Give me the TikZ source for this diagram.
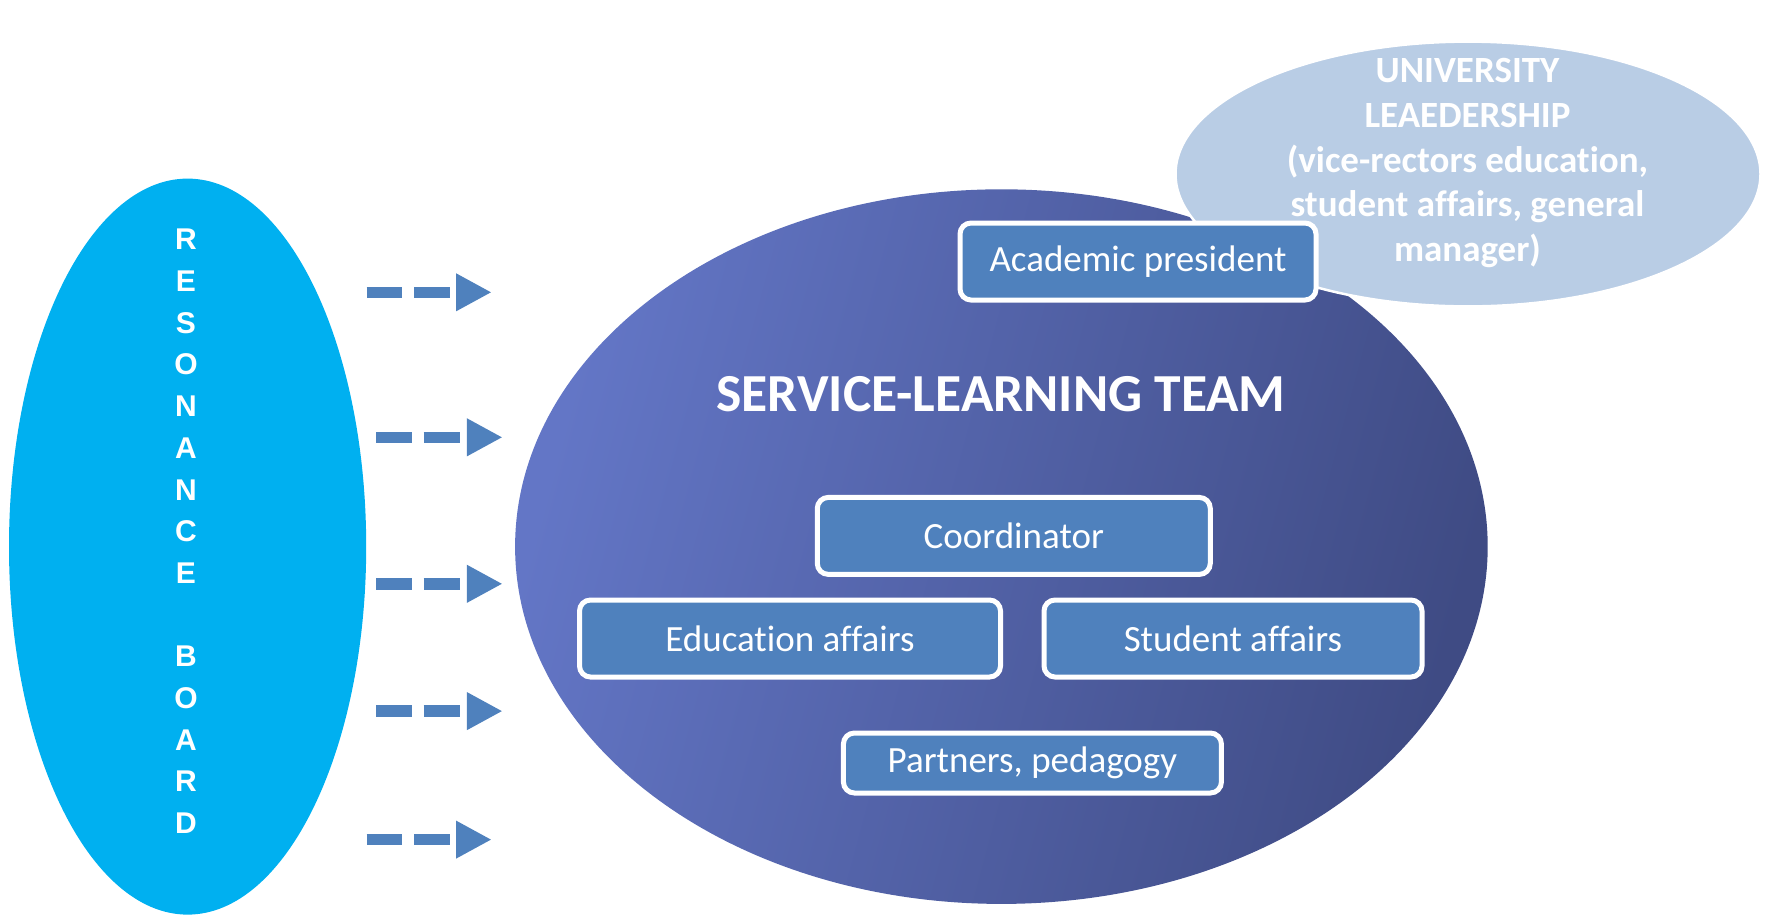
\documentclass[tikz,border=0pt]{standalone}
\usepackage{fontspec}
\setmainfont{Carlito}[Ligatures={NoCommon,NoRequired,NoContextual}]
\newfontfamily\resfont{Liberation Sans}
\usetikzlibrary{shapes.geometric,arrows.meta}
\definecolor{resblue}{HTML}{00B0F0}
\definecolor{boxblue}{HTML}{4F81BD}
\definecolor{leadblue}{HTML}{B9CDE5}
\definecolor{teamlight}{RGB}{99,118,198}
\definecolor{teamdark}{RGB}{63,75,132}
\begin{document}
\begin{tikzpicture}[x=1pt,y=-1pt,
  bigell/.style={ellipse, inner sep=0pt},
  box/.style={draw=white, line width=5pt, fill=boxblue, rounded corners=11pt, text=white,
    font=\fontsize{37}{44}\selectfont, inner sep=0pt, minimum height=77pt},
  flow/.style={draw=boxblue, line width=11.6pt,
    dash pattern=on 35.6pt off 11.7pt on 36.3pt off 40pt,
    -{Triangle[length=35.7pt,width=35.3pt]}}
]
\useasboundingbox (0,0) rectangle (1767,914);
% ellipses
\node[bigell, fill=resblue, minimum width=357.2pt, minimum height=736pt] (res) at (187.6,546.6) {};
\node[bigell, left color=teamlight, right color=teamdark, shading angle=75,
      minimum width=972.6pt, minimum height=714.6pt] (team) at (1001.4,546.6) {};
\node[bigell, fill=leadblue, draw=white, line width=2.5pt,
      minimum width=585pt, minimum height=264.8pt] (lead) at (1468,174) {};
% resonance text
\node[text=white, align=center, inner sep=0pt,
      font=\resfont\bfseries\fontsize{30}{41.7}\selectfont] (restxt) at (186,531.4)
  {R\\E\\S\\O\\N\\A\\N\\C\\E\\\mbox{}\\B\\O\\A\\R\\D};
% arrows
\coordinate (a1s) at (366.7,292.3); \coordinate (a1e) at (491.7,292.3);
\coordinate (a2s) at (376.4,437.3); \coordinate (a2e) at (502.6,437.3);
\coordinate (a3s) at (376.4,583.8); \coordinate (a3e) at (502.6,583.8);
\coordinate (a4s) at (376.4,711.1); \coordinate (a4e) at (502.6,711.1);
\coordinate (a5s) at (366.7,839.6); \coordinate (a5e) at (491.7,839.6);
\foreach \i in {1,...,5} { \draw[flow] (a\i s) -- (a\i e); }
% title
\node[text=white, inner sep=0pt, font=\fontsize{53.5}{60}\selectfont\bfseries] (title) at (1001,394.5)
  {SERVICE-LEARNING TEAM};
% leadership text
\node[text=white, align=center, inner sep=0pt, font=\fontsize{37}{44.8}\selectfont\bfseries] (leadtxt)
  at (1467.5,163) {UNIVERSITY\\LEAEDERSHIP\\(vice-rectors education,\\student affairs, general\\manager)};
% boxes
\node[box, minimum width=356pt] (acad) at (1138,261.5) {Academic president};
\node[box, minimum width=393pt] (coord) at (1013.8,535.9) {Coordinator};
\node[box, minimum width=421pt] (edu) at (790,638.5) {Education affairs};
\node[box, minimum width=378pt] (stud) at (1233,638.5) {Student affairs};
\node[box, minimum width=378pt, minimum height=60pt] (part) at (1032.4,763) {Partners, pedagogy};
\end{tikzpicture}
\end{document}
